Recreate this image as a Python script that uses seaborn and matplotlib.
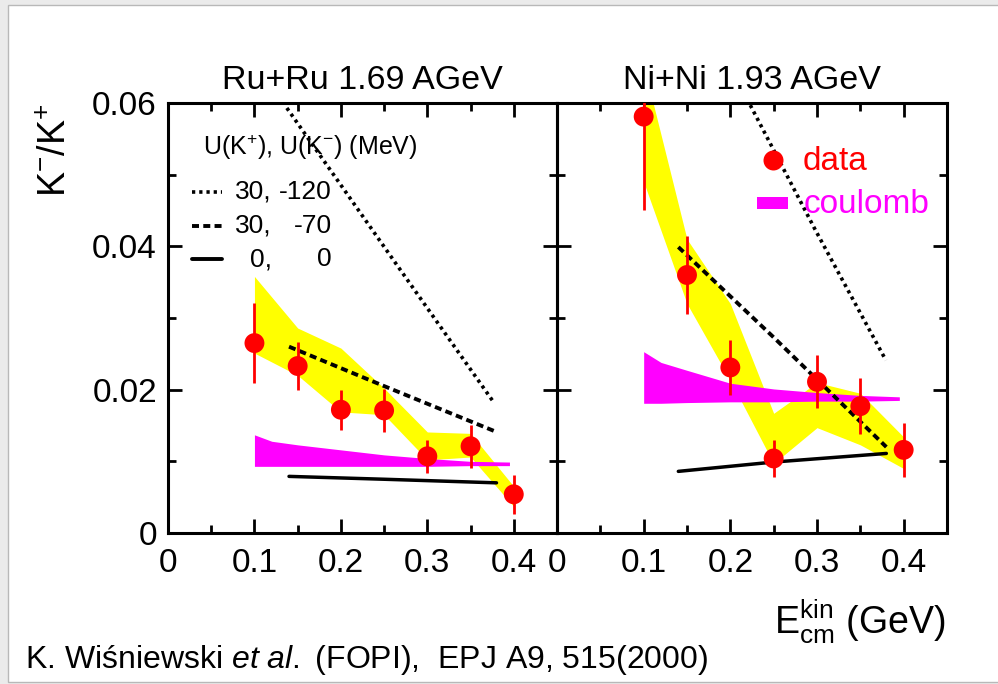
import matplotlib
matplotlib.use("Agg")
import matplotlib.pyplot as plt
import seaborn as sns
from matplotlib.patches import Rectangle
from matplotlib.lines import Line2D

# ---------------- data ----------------
energy = [0.10, 0.15, 0.20, 0.25, 0.30, 0.35, 0.40]

# Ru+Ru 1.69 AGeV
ru_ratio = [0.0265, 0.0233, 0.0172, 0.0171, 0.0107, 0.0121, 0.0054]
ru_err = [0.0056, 0.0034, 0.0028, 0.0030, 0.0023, 0.0030, 0.0027]
ru_band_hi = [0.0358, 0.0286, 0.0258, 0.0202, 0.0141, 0.0139, 0.0065]
ru_band_lo = [0.0251, 0.0220, 0.0169, 0.0165, 0.0102, 0.0106, 0.0037]

# Ni+Ni 1.93 AGeV
ni_ratio = [0.0581, 0.0360, 0.0231, 0.0104, 0.0211, 0.0177, 0.0116]
ni_err = [0.0130, 0.0054, 0.0039, 0.0026, 0.0037, 0.0039, 0.0038]
ni_band_hi = [0.0653, 0.0410, 0.0320, 0.0167, 0.0210, 0.0195, 0.0134]
ni_band_lo = [0.0490, 0.0320, 0.0213, 0.0097, 0.0147, 0.0123, 0.0090]

# Coulomb-only calculation (band)
coul_x = [0.10, 0.12, 0.15, 0.20, 0.25, 0.30, 0.35, 0.395]
ru_coul_hi = [0.0137, 0.0128, 0.0123, 0.0116, 0.0109, 0.0104, 0.0100, 0.0099]
ru_coul_lo = [0.0093, 0.0093, 0.0093, 0.0093, 0.0093, 0.0093, 0.0094, 0.0094]
ni_coul_hi = [0.0253, 0.0238, 0.0227, 0.0209, 0.0201, 0.0196, 0.0192, 0.0190]
ni_coul_lo = [0.0181, 0.0181, 0.0182, 0.0183, 0.0183, 0.0184, 0.0184, 0.0185]

# transport model curves for kaon potentials U(K+), U(K-)
model_x = [0.14, 0.25, 0.38]
ru_pot_0 = [0.0079, 0.0075, 0.0070]
ru_pot_70 = [0.0260, 0.0205, 0.0141]
ru_pot_120_x = [0.1375, 0.2636, 0.3776]
ru_pot_120 = [0.0593, 0.0376, 0.0181]

ni_pot_0 = [0.0086, 0.0099, 0.0111]
ni_pot_70 = [0.0399, 0.0273, 0.0120]
ni_pot_120_x = [0.223, 0.298, 0.3795]
ni_pot_120 = [0.0597, 0.0423, 0.0241]

x_ticks = [0, 0.1, 0.2, 0.3, 0.4]
x_tick_labels = ["0", "0.1", "0.2", "0.3", "0.4"]
y_ticks = [0, 0.02, 0.04, 0.06]
y_tick_labels = ["0", "0.02", "0.04", "0.06"]

titles = ["Ru+Ru 1.69 AGeV", "Ni+Ni 1.93 AGeV"]
legend_title = r"U(K$^{+}$), U(K$^{-}$) (MeV)"
legend_rows = [("30,", "-120"), ("30,", "-70"), ("0,", "0")]

# ---------------- style ----------------
sns.set_style("ticks")
plt.rcParams["font.family"] = ["Liberation Sans", "DejaVu Sans"]
plt.rcParams["mathtext.fontset"] = "custom"
plt.rcParams["mathtext.rm"] = "Liberation Sans"
plt.rcParams["mathtext.it"] = "Liberation Sans:italic"
plt.rcParams["mathtext.bf"] = "Liberation Sans:bold"
plt.rcParams["mathtext.default"] = "regular"
plt.rcParams["text.color"] = "black"
plt.rcParams["axes.labelcolor"] = "black"
plt.rcParams["xtick.color"] = "black"
plt.rcParams["ytick.color"] = "black"

YELLOW = "#ffff00"
MAGENTA = "#ff00ff"
RED = "#ff0000"
DOTTED = (0, (0.9, 1.1))
DASHED = (0, (1.8, 1.1))

fig = plt.figure(figsize=(9.98, 6.84), dpi=100, facecolor="#ebebeb")
# slide frame behind everything
fig.patches.append(Rectangle((7.5 / 998, 1 - 682 / 684), 1.0, (682 - 5) / 684,
                             transform=fig.transFigure, facecolor="white",
                             edgecolor="#b8b8b8", linewidth=1.0, zorder=-10))

ax_left = fig.add_axes([168 / 998, 1 - 533 / 684, 389 / 998, 430 / 684], zorder=2)
ax_right = fig.add_axes([557 / 998, 1 - 533 / 684, 390 / 998, 430 / 684], zorder=2)

panels = [
    (ax_left, ru_ratio, ru_err, ru_band_lo, ru_band_hi, ru_coul_lo, ru_coul_hi,
     ru_pot_0, ru_pot_70, ru_pot_120_x, ru_pot_120),
    (ax_right, ni_ratio, ni_err, ni_band_lo, ni_band_hi, ni_coul_lo, ni_coul_hi,
     ni_pot_0, ni_pot_70, ni_pot_120_x, ni_pot_120),
]

for i, (ax, ratio, err, blo, bhi, clo, chi, p0, p70, p120x, p120) in enumerate(panels):
    ax.set_facecolor("none")
    ax.fill_between(energy, blo, bhi, color=YELLOW, linewidth=0, zorder=1)
    ax.fill_between(coul_x, clo, chi, color=MAGENTA, linewidth=0, zorder=2)

    sns.lineplot(x=model_x, y=p0, ax=ax, color="black", linewidth=2.5,
                 sort=False, estimator=None, zorder=3)
    sns.lineplot(x=model_x, y=p70, ax=ax, color="black", linewidth=2.8,
                 linestyle=DASHED, sort=False, estimator=None, zorder=3)
    sns.lineplot(x=p120x, y=p120, ax=ax, color="black", linewidth=2.6,
                 linestyle=DOTTED, sort=False, estimator=None, zorder=3)

    ax.errorbar(energy, ratio, yerr=err, fmt="none", ecolor=RED,
                elinewidth=2.0, capsize=0, zorder=4)
    sns.scatterplot(x=energy, y=ratio, ax=ax, color=RED, s=205,
                    edgecolor="none", linewidth=0, zorder=5)

    ax.set_xlim(0, 0.45)
    ax.set_ylim(0, 0.06)
    ax.set_xticks(x_ticks)
    ax.set_xticklabels(x_tick_labels)
    ax.set_xticks([0.05, 0.15, 0.25, 0.35], minor=True)
    ax.set_yticks(y_ticks)
    ax.set_yticks([0.01, 0.03, 0.05], minor=True)
    if i == 0:
        ax.set_yticklabels(y_tick_labels)
    else:
        ax.set_yticklabels([])
    ax.tick_params(which="both", direction="in", top=True, right=True,
                   width=2.0, colors="black", labelsize=24)
    ax.tick_params(which="major", length=10)
    ax.tick_params(which="minor", length=6)
    ax.tick_params(axis="x", pad=11)
    ax.tick_params(axis="y", pad=8)
    for sp in ax.spines.values():
        sp.set_linewidth(2.2)
        sp.set_color("black")
        sp.set_visible(True)
    ax.set_xlabel("")
    ax.set_ylabel("")
    ax.set_title(titles[i], fontsize=24.5, pad=10, color="black")

# model legend (left panel)
ax_left.text(0.09, 0.898, legend_title, transform=ax_left.transAxes,
             fontsize=18, ha="left", va="center")
row_y = [0.794, 0.714, 0.637]
row_styles = [dict(linewidth=2.6, linestyle=DOTTED),
              dict(linewidth=2.8, linestyle=DASHED),
              dict(linewidth=2.8, linestyle="-")]
for (c1, c2), yy, st in zip(legend_rows, row_y, row_styles):
    ax_left.add_line(Line2D([0.062, 0.139], [yy, yy], transform=ax_left.transAxes,
                            color="black", **st))
    ax_left.text(0.267, yy, c1, transform=ax_left.transAxes, fontsize=19,
                 ha="right", va="center")
    ax_left.text(0.421, yy, c2, transform=ax_left.transAxes, fontsize=19,
                 ha="right", va="center")

# data / coulomb legend (right panel)
ax_right.add_line(Line2D([0.553], [0.867], transform=ax_right.transAxes,
                         marker="o", markersize=14.4, color=RED, linestyle="none",
                         markeredgewidth=0, zorder=6))
ax_right.text(0.631, 0.863, "data", transform=ax_right.transAxes, fontsize=24,
              color=RED, ha="left", va="center", zorder=6)
ax_right.add_patch(Rectangle((0.513, 0.753), 0.079, 0.028,
                             transform=ax_right.transAxes, facecolor=MAGENTA,
                             edgecolor="none", zorder=6))
ax_right.text(0.633, 0.763, "coulomb", transform=ax_right.transAxes, fontsize=24,
              color=MAGENTA, ha="left", va="center", zorder=6)

# axis titles
fig.text(56 / 998, 1 - 150 / 684, r"K$^{-}$/K$^{+}$", rotation=90,
         fontsize=27, ha="center", va="center")
fig.text(946 / 998, 1 - 634 / 684, r"E$_{cm}^{kin}$ (GeV)", fontsize=27,
         ha="right", va="baseline")

# reference line
fig.text(25 / 998, 1 - 668 / 684,
         r"K. Wiśniewski $\it{et\ al.}$ (FOPI),  EPJ A9, 515(2000)",
         fontsize=23, ha="left", va="baseline")

fig.savefig("out.png", dpi=100, facecolor=fig.get_facecolor())
